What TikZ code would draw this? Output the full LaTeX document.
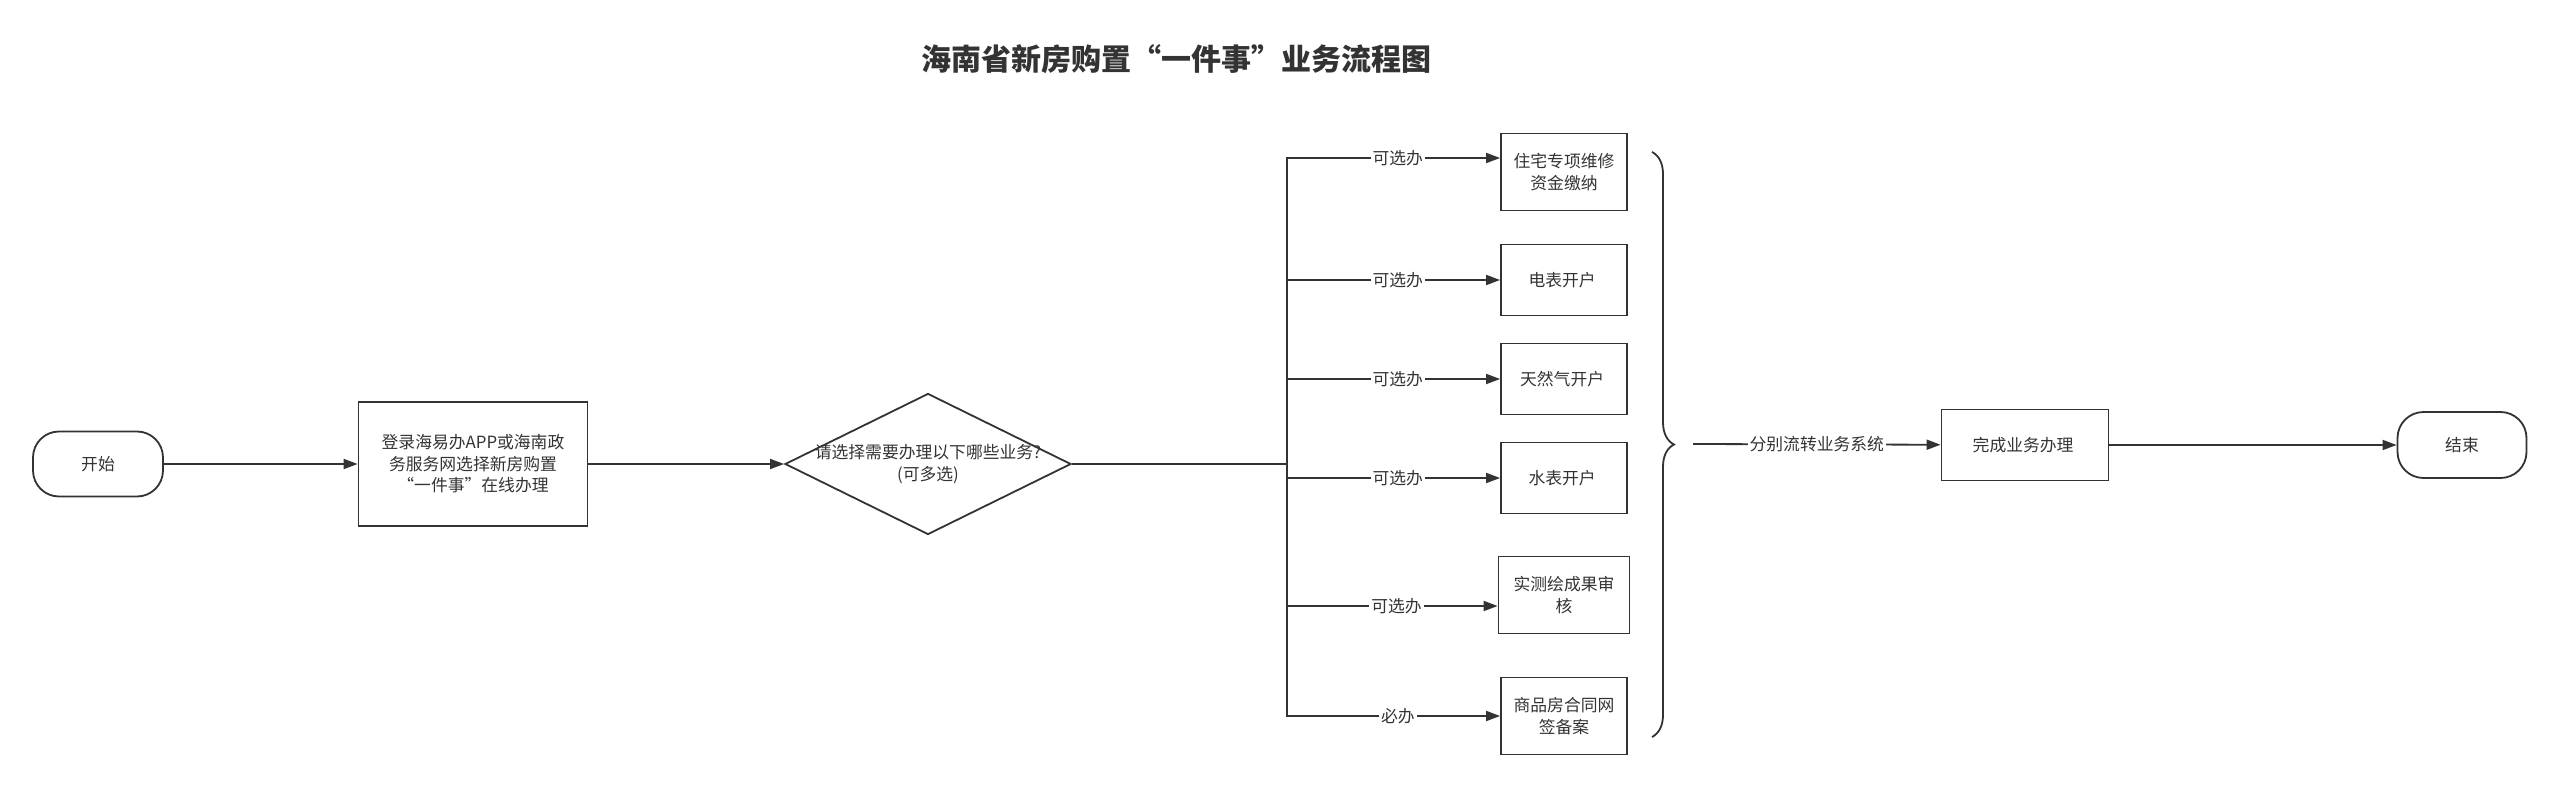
\documentclass[tikz,border=0pt]{standalone}
\usepackage{fontspec}
\setmainfont{Noto Sans CJK SC}
\usetikzlibrary{shapes.geometric,arrows.meta,decorations.pathreplacing}
\definecolor{ink}{HTML}{333333}

\begin{document}
\begin{tikzpicture}[x=0.5pt,y=-0.5pt,color=ink,line width=0.9pt,
	>={Triangle[length=7pt,width=5pt]},
	every node/.style={font=\fontsize{8.4}{10.8}\selectfont}]

\tikzstyle{block} = [
	draw, rectangle, align=center, inner sep=1pt,
	minimum width=63pt, minimum height=35.5pt ];
\tikzstyle{term} = [draw, rectangle, rounded corners=13pt,
	minimum width=65pt, minimum height=32.5pt];
\tikzstyle{choice} = [draw, diamond, inner sep=0pt,
	minimum width=143pt, minimum height=70.5pt];
\tikzstyle{tag} = [fill=white, inner sep=1pt];
\useasboundingbox (0,0) rectangle (2560,786);

\node[font=\bfseries\fontsize{15}{18}\selectfont] (title) at (1176,59) { 海南省新房购置“一件事”业务流程图 };

\node[term] (start) at (98,464) { 开始 };
\node[block,minimum width=114.5pt,minimum height=62pt] (login) at (473,464)
	{ 登录海易办APP或海南政\\务服务网选择新房购置\\“一件事”在线办理 };
\node[choice] (choose) at (928,464) {};
\node[align=center] (ask) at (choose) { 请选择需要办理以下哪些业务?\\(可多选) };
\coordinate (split) at (1287,464);

\node[block,minimum height=38.5pt] (fund) at (1564,172) { 住宅专项维修\\资金缴纳 };
\node[block] (power) at (1564,280) { 电表开户 };
\node[block] (gas) at (1564,379) { 天然气开户 };
\node[block] (water) at (1564,478) { 水表开户 };
\node[block,minimum width=65.5pt,minimum height=38.5pt] (survey) at (1564,595) { 实测绘成果审\\核 };
\node[block,minimum height=38.5pt] (contract) at (1564,716) { 商品房合同网\\签备案 };

\node[block,minimum width=83.5pt] (done) at (2025,445) { 完成业务办理 };
\node[term,minimum width=64.5pt,minimum height=33pt] (finish) at (2462,445) { 结束 };

\draw[->] (start) -- (login);
\draw[->] (login) -- (choose);
\draw (choose) -- (split);

\draw[->] (split) |- node[tag,pos=.76] {可选办} ([yshift=7pt]fund.west);
\draw[->] (split) |- node[tag,pos=.76] {可选办} (power);
\draw[->] (split) |- node[tag,pos=.76] {可选办} (gas);
\draw[->] (split) |- node[tag,pos=.76] {可选办} (water);
\draw[->] (split) |- node[tag,pos=.76] {可选办} ([yshift=-5.5pt]survey.west);
\draw[->] (split) |- node[tag,pos=.76] {必办} (contract);

%\draw (1652,152) -- (1652,737);
\draw[decorate,decoration={brace,amplitude=11pt}] (1652,152) -- (1652,737);
\coordinate (fork) at (1693,444);
\draw[->] (fork) -- node[tag] {分别流转业务系统} (done);
\draw[->] (done) -- (finish);

\end{tikzpicture}
\end{document}
